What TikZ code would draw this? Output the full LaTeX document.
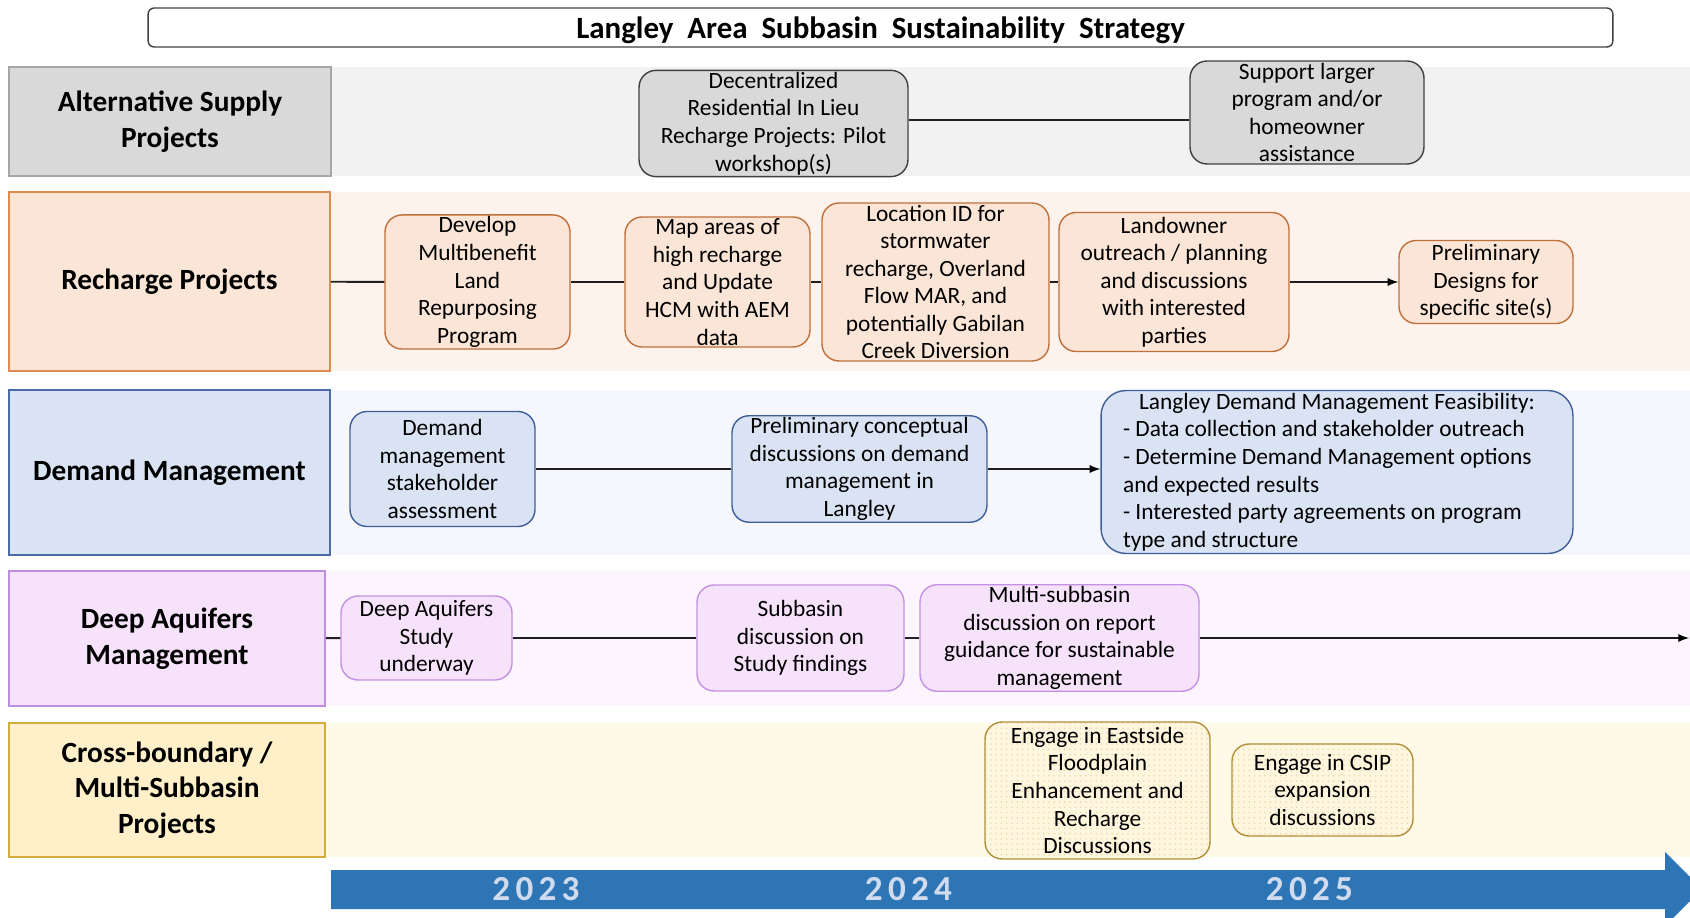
\documentclass[tikz,border=0pt]{standalone}
\usepackage{fontspec}
\setmainfont{Carlito}
\newfontfamily\yearfont[LetterSpace=15]{Carlito}
\usepackage{tikz}
\usetikzlibrary{positioning, arrows, patterns}

\definecolor{bandA}{HTML}{F2F2F2}
\definecolor{bandB}{HTML}{FDF3EC}
\definecolor{bandC}{HTML}{F5F7FC}
\definecolor{bandD}{HTML}{FCF5FD}
\definecolor{bandE}{HTML}{FFF9E8}
\definecolor{labA}{HTML}{D9D9D9}
\definecolor{labB}{HTML}{FBE5D6}
\definecolor{labC}{HTML}{DAE3F3}
\definecolor{labD}{HTML}{F6E3FB}
\definecolor{labE}{HTML}{FFF0C9}
\definecolor{lineA}{HTML}{A6A6A6}
\definecolor{lineB}{HTML}{E08A52}
\definecolor{lineC}{HTML}{4A6BA5}
\definecolor{lineD}{HTML}{BE8FE0}
\definecolor{lineE}{HTML}{D4AE3C}
\definecolor{edgeA}{HTML}{404040}
\definecolor{edgeB}{HTML}{C0703A}
\definecolor{edgeC}{HTML}{3F5F98}
\definecolor{edgeD}{HTML}{C490E4}
\definecolor{edgeE}{HTML}{B0903A}
\definecolor{dotE}{HTML}{EAD9A6}
\definecolor{timeblue}{HTML}{2E75B6}
\definecolor{yeartext}{HTML}{D0DBEE}
\definecolor{linkgray}{HTML}{1F1F1F}

\newcommand{\boxfont}{\fontsize{13.3}{15.7}\selectfont}
\newcommand{\labfont}{\fontsize{16.7}{20.2}\selectfont\bfseries}
\newcommand{\titlefont}{\fontsize{17.6}{21}\selectfont\bfseries}

\begin{document}
\begin{tikzpicture}
	[x=0.02cm, y=-0.02cm, >=latex, line width=0.8pt,
	 rowlabel/.style={draw, line width=1pt, font=\labfont, align=center},
	 task/.style={draw, rounded corners=0.34cm, font=\boxfont, align=center, inner sep=1pt},
	 link/.style={line width=1.1pt, draw=linkgray},
	 year/.style={font=\yearfont\fontsize{20}{24}\selectfont\bfseries, text=yeartext}]
   \useasboundingbox (0,0) rectangle (1690,918);
   \clip (0,0) rectangle (1690,918);

   % row backgrounds
   \fill[bandA] (331,67) rectangle (1690,176);
   \fill[bandB] (330,192) rectangle (1690,371);
   \fill[bandC] (330,390) rectangle (1690,555);
   \fill[bandD] (325,571) rectangle (1690,706);
   \fill[bandE] (325,723) rectangle (1690,857);

   % title
   \node[draw=edgeA, rounded corners=0.12cm, minimum width=29.3cm, minimum height=0.78cm, inner ysep=0pt, text height=16.8pt, text depth=4.4pt, font=\titlefont] (title) at (880.5,27.5) {Langley~ Area~ Subbasin~ Sustainability~ Strategy};

   % row labels
   \node[rowlabel, fill=labA, draw=lineA, minimum width=6.44cm, minimum height=2.18cm] (altsupply) at (170,121.5) {Alternative Supply\\Projects};
   \node[rowlabel, fill=labB, draw=lineB, minimum width=6.42cm, minimum height=3.58cm] (recharge) at (169.5,281.5) {Recharge Projects};
   \node[rowlabel, fill=labC, draw=lineC, minimum width=6.42cm, minimum height=3.3cm] (demand) at (169.5,472.5) {Demand Management};
   \node[rowlabel, fill=labD, draw=lineD, minimum width=6.32cm, minimum height=2.7cm] (deep) at (167,638.5) {Deep Aquifers\\Management};
   \node[rowlabel, fill=labE, draw=lineE, minimum width=6.32cm, minimum height=2.68cm] (cross) at (167,790) {Cross-boundary /\\Multi-Subbasin\\Projects};

   % alternative supply
   \node[task, fill=labA, draw=edgeA, minimum width=5.38cm, minimum height=2.1cm] (as1) at (773.5,123.5) {Decentralized\\Residential In Lieu\\Recharge Projects: Pilot\\workshop(s)};
   \node[task, fill=labA, draw=edgeA, minimum width=4.68cm, minimum height=2.06cm] (as2) at (1307,112.5) {Support larger\\program and/or\\homeowner\\assistance};

   % recharge
   \node[task, fill=labB, draw=edgeB, minimum width=3.7cm, minimum height=2.62cm] (rc1) at (477.5,282) {Develop\\Multibenefit\\Land\\Repurposing\\Program};
   \node[task, fill=labB, draw=edgeB, minimum width=3.7cm, minimum height=2.6cm] (rc2) at (717.5,282) {Map areas of\\high recharge\\and Update\\HCM with AEM\\data};
   \node[task, fill=labB, draw=edgeB, minimum width=4.54cm, minimum height=3.16cm] (rc3) at (935.5,282) {Location ID for\\stormwater\\recharge, Overland\\Flow MAR, and\\potentially Gabilan\\Creek Diversion};
   \node[task, fill=labB, draw=edgeB, minimum width=4.6cm, minimum height=2.78cm] (rc4) at (1174,282) {Landowner\\outreach / planning\\and discussions\\with interested\\parties};
   \node[task, fill=labB, draw=edgeB, minimum width=3.48cm, minimum height=1.66cm] (rc5) at (1486,282) {Preliminary\\Designs for\\specific site(s)};

   % demand management
   \node[task, fill=labC, draw=edgeC, minimum width=3.7cm, minimum height=2.3cm] (dm1) at (442.5,469) {Demand\\management\\stakeholder\\assessment};
   \node[task, fill=labC, draw=edgeC, minimum width=5.1cm, minimum height=2.1cm] (dm2) at (859.5,469) {Preliminary conceptual\\discussions on demand\\management in\\Langley};
   \node[task, fill=labC, draw=edgeC, minimum width=9.44cm, minimum height=3.26cm, align=left, rounded corners=0.5cm] (dm3) at (1337,472) {\makebox[8.56cm]{Langley Demand Management Feasibility:}\\- Data collection and stakeholder outreach\\- Determine Demand Management options\\and expected results\\- Interested party agreements on program\\type and structure};

   % deep aquifers
   \node[task, fill=labD, draw=edgeD, minimum width=3.42cm, minimum height=1.68cm] (da1) at (426.5,638) {Deep Aquifers\\Study\\underway};
   \node[task, fill=labD, draw=edgeD, minimum width=4.14cm, minimum height=2.12cm] (da2) at (800.5,638) {Subbasin\\discussion on\\Study findings};
   \node[task, fill=labD, draw=edgeD, minimum width=5.58cm, minimum height=2.12cm] (da3) at (1059.5,638) {Multi-subbasin\\discussion on report\\guidance for sustainable\\management};
   \coordinate (deepend) at (1689,638);

   % cross-boundary
   \node[task, preaction={fill=labE!60}, pattern=dots, pattern color=dotE, draw=edgeE, minimum width=4.5cm, minimum height=2.74cm] (cb1) at (1097.5,790.5) {Engage in Eastside\\Floodplain\\Enhancement and\\Recharge\\Discussions};
   \node[task, preaction={fill=labE!60}, pattern=dots, pattern color=dotE, draw=edgeE, minimum width=3.62cm, minimum height=1.84cm] (cb2) at (1322.5,790) {Engage in CSIP\\expansion\\discussions};

   % connectors
   \coordinate (asrow) at (0,120);
   \path[link]
    (as1.east |- asrow) edge (as2.west |- asrow)
    (recharge) edge (rc1)
    (rc1) edge (rc2)
    (rc2) edge (rc3)
    (rc3) edge (rc4)
    (rc4) edge[->] (rc5)
    (dm1) edge (dm2)
    (dm2) edge[->] (dm2 -| dm3.west)
    (deep) edge (da1)
    (da1) edge (da2)
    (da2) edge (da3)
    (da3) edge[->] (deepend);

   % timeline
   \fill[timeblue] (331,870) -- (1665,870) -- (1665,852) -- (1702,889) -- (1665,926) -- (1665,909) -- (331,909) -- cycle;
   \node[year] (y23) at (536,889) {2023};
   \node[year] (y24) at (908.5,889) {2024};
   \node[year] (y25) at (1309.5,889) {2025};
\end{tikzpicture}
\end{document}
